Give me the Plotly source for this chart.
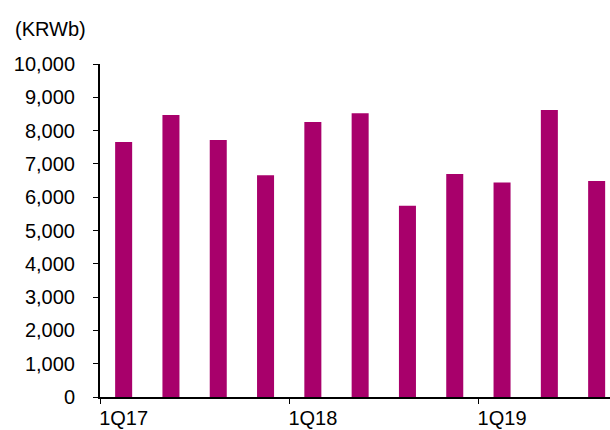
import plotly.graph_objects as go

# Quarterly figures, KRW billions
quarters = ["1Q17", "2Q17", "3Q17", "4Q17", "1Q18", "2Q18", "3Q18", "4Q18",
            "1Q19", "2Q19", "3Q19"]
values = [7660, 8470, 7720, 6660, 8260, 8520, 5740, 6700, 6440, 8620, 6490]

# Only the first quarter of each year carries a label
label_quarters = ["1Q17", "1Q18", "1Q19"]

y_ticks = list(range(0, 10001, 1000))

FONT = "Liberation Sans, Arial, sans-serif"
BAR_COLOR = "#A8006B"

x_pos = list(range(len(quarters)))
label_pos = [quarters.index(q) for q in label_quarters]
# tick marks sit on the left boundary of each labelled quarter
boundary_pos = [p - 0.5 for p in label_pos]

fig = go.Figure(
    go.Bar(
        x=x_pos,
        y=values,
        width=0.36,
        marker=dict(color=BAR_COLOR, line=dict(width=0)),
        hovertext=quarters,
    )
)

fig.update_layout(
    width=610,
    height=430,
    margin=dict(l=100, r=0, t=64, b=33),
    paper_bgcolor="white",
    plot_bgcolor="white",
    showlegend=False,
    font=dict(family=FONT, size=20, color="black"),
    annotations=[
        dict(
            text="(KRWb)",
            xref="paper", yref="paper",
            x=0, y=1,
            xanchor="right", yanchor="middle",
            xshift=-12, yshift=35,
            showarrow=False,
            font=dict(family=FONT, size=20, color="black"),
        )
    ],
)

fig.update_xaxes(
    range=[-0.5, -0.5 + 510 / 47.3],
    tickmode="array",
    tickvals=label_pos,
    ticktext=label_quarters,
    ticks="",
    showline=True,
    linecolor="black",
    linewidth=2,
    showgrid=False,
    zeroline=False,
    automargin=False,
    ticklabelstandoff=2,
    minor=dict(
        tickmode="array",
        tickvals=boundary_pos,
        ticks="outside",
        ticklen=5,
        tickwidth=1,
        tickcolor="black",
        showgrid=False,
    ),
)

fig.update_yaxes(
    range=[0, 10000],
    tickmode="array",
    tickvals=y_ticks,
    tickformat=",",
    ticks="outside",
    ticklen=5,
    tickwidth=1,
    tickcolor="black",
    showline=True,
    linecolor="black",
    linewidth=2,
    showgrid=False,
    zeroline=False,
    automargin=False,
    ticklabelstandoff=14,
)

fig.write_html("out.html")
